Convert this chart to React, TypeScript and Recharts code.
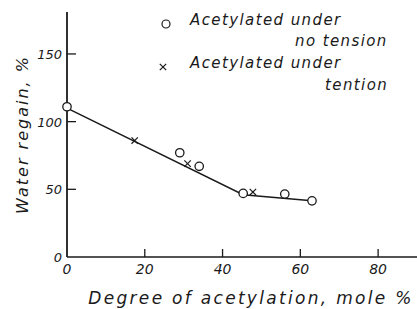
import React from "react";
import { ScatterChart, Scatter, XAxis, YAxis } from "recharts";

// Water regain vs degree of acetylation
const noTension = [
  { x: 0, y: 111 },
  { x: 29, y: 77 },
  { x: 34, y: 67 },
  { x: 45.3, y: 47 },
  { x: 56, y: 46.5 },
  { x: 63, y: 41.5 },
];

const underTension = [
  { x: 17.4, y: 86 },
  { x: 31, y: 69 },
  { x: 47.8, y: 48 },
];

const fitLine = [
  { x: 0, y: 110 },
  { x: 45.3, y: 46 },
  { x: 63, y: 41.5 },
];

const xTicks = [0, 20, 40, 60, 80];
const yTicks = [0, 50, 100, 150];

const ink = "#1a1a1a";
const font = "'DejaVu Sans', sans-serif";

const CircleMark = (props: any) => (
  <circle cx={props.cx} cy={props.cy} r={4.2} fill="#fff" stroke={ink} strokeWidth={1.3} />
);

const CrossMark = (props: any) => {
  const { cx, cy } = props;
  const s = 3.2;
  return (
    <g stroke={ink} strokeWidth={1.2}>
      <line x1={cx - s} y1={cy - s} x2={cx + s} y2={cy + s} />
      <line x1={cx - s} y1={cy + s} x2={cx + s} y2={cy - s} />
    </g>
  );
};

const NoMark = () => <g />;

const XTick = (props: any) => {
  const { x, y, payload } = props;
  return (
    <g>
      {payload.value !== 0 && <line x1={x} y1={y} x2={x} y2={y - 8} stroke={ink} strokeWidth={1.3} />}
      <text x={x} y={y + 17} textAnchor="middle" fontFamily={font} fontStyle="italic" fontSize={14} fill={ink}>
        {payload.value}
      </text>
    </g>
  );
};

const YTick = (props: any) => {
  const { x, y, payload } = props;
  return (
    <g>
      {payload.value !== 0 && <line x1={x} y1={y} x2={x + 9} y2={y} stroke={ink} strokeWidth={1.3} />}
      <text x={x - 5} y={y + 5} textAnchor="end" fontFamily={font} fontStyle="italic" fontSize={13} fill={ink}>
        {payload.value}
      </text>
    </g>
  );
};

const YLabel = (props: any) => {
  const vb = props.viewBox;
  const cx = vb.x + 22;
  const cy = vb.y + vb.height / 2;
  return (
    <text
      x={cx}
      y={cy}
      transform={`rotate(-90, ${cx}, ${cy})`}
      textAnchor="middle"
      dominantBaseline="central"
      fontFamily={font}
      fontStyle="italic"
      fontSize={16}
      letterSpacing={2}
      fill={ink}
    >
      Water  regain, %
    </text>
  );
};

const XLabel = (props: any) => {
  const vb = props.viewBox;
  return (
    <text
      x={vb.x + vb.width / 2 + 9}
      y={vb.y + 47}
      textAnchor="middle"
      fontFamily={font}
      fontStyle="italic"
      fontSize={17}
      letterSpacing={2.3}
      fill={ink}
    >
      Degree  of acetylation, mole %
    </text>
  );
};

const legendText: React.CSSProperties = {
  position: "absolute",
  fontFamily: font,
  fontStyle: "italic",
  fontSize: 15,
  letterSpacing: 1.4,
  color: ink,
  whiteSpace: "nowrap",
  lineHeight: "16px",
};

export default function App() {
  return (
    <div style={{ position: "fixed", left: 0, top: 0, width: 417, height: 309, background: "#fff" }}>
      <ScatterChart width={417} height={309} margin={{ top: 12, right: 0, bottom: 0, left: 0 }}>
        <XAxis
          type="number"
          dataKey="x"
          domain={[0, 90]}
          ticks={xTicks}
          height={52}
          tickSize={0}
          tickMargin={0}
          tickLine={false}
          tick={<XTick />}
          axisLine={{ stroke: ink, strokeWidth: 1.3 }}
          label={<XLabel />}
        />
        <YAxis
          type="number"
          dataKey="y"
          domain={[0, 181]}
          ticks={yTicks}
          width={67}
          tickSize={0}
          tickMargin={0}
          tickLine={false}
          tick={<YTick />}
          axisLine={{ stroke: ink, strokeWidth: 1.8 }}
          label={<YLabel />}
        />
        <Scatter data={fitLine} line={{ stroke: ink, strokeWidth: 1.5 }} shape={<NoMark />} isAnimationActive={false} />
        <Scatter data={underTension} shape={<CrossMark />} isAnimationActive={false} />
        <Scatter data={noTension} shape={<CircleMark />} isAnimationActive={false} />
      </ScatterChart>
      <svg style={{ position: "absolute", left: 0, top: 0 }} width={417} height={100}>
        <circle cx={166} cy={24} r={4} fill="#fff" stroke={ink} strokeWidth={1.2} />
        <CrossMark cx={163} cy={67} />
      </svg>
      <div style={{ ...legendText, left: 190, top: 12 }}>Acetylated under</div>
      <div style={{ ...legendText, left: 295, top: 33 }}>no tension</div>
      <div style={{ ...legendText, left: 190, top: 55 }}>Acetylated under</div>
      <div style={{ ...legendText, left: 325, top: 77 }}>tention</div>
    </div>
  );
}
